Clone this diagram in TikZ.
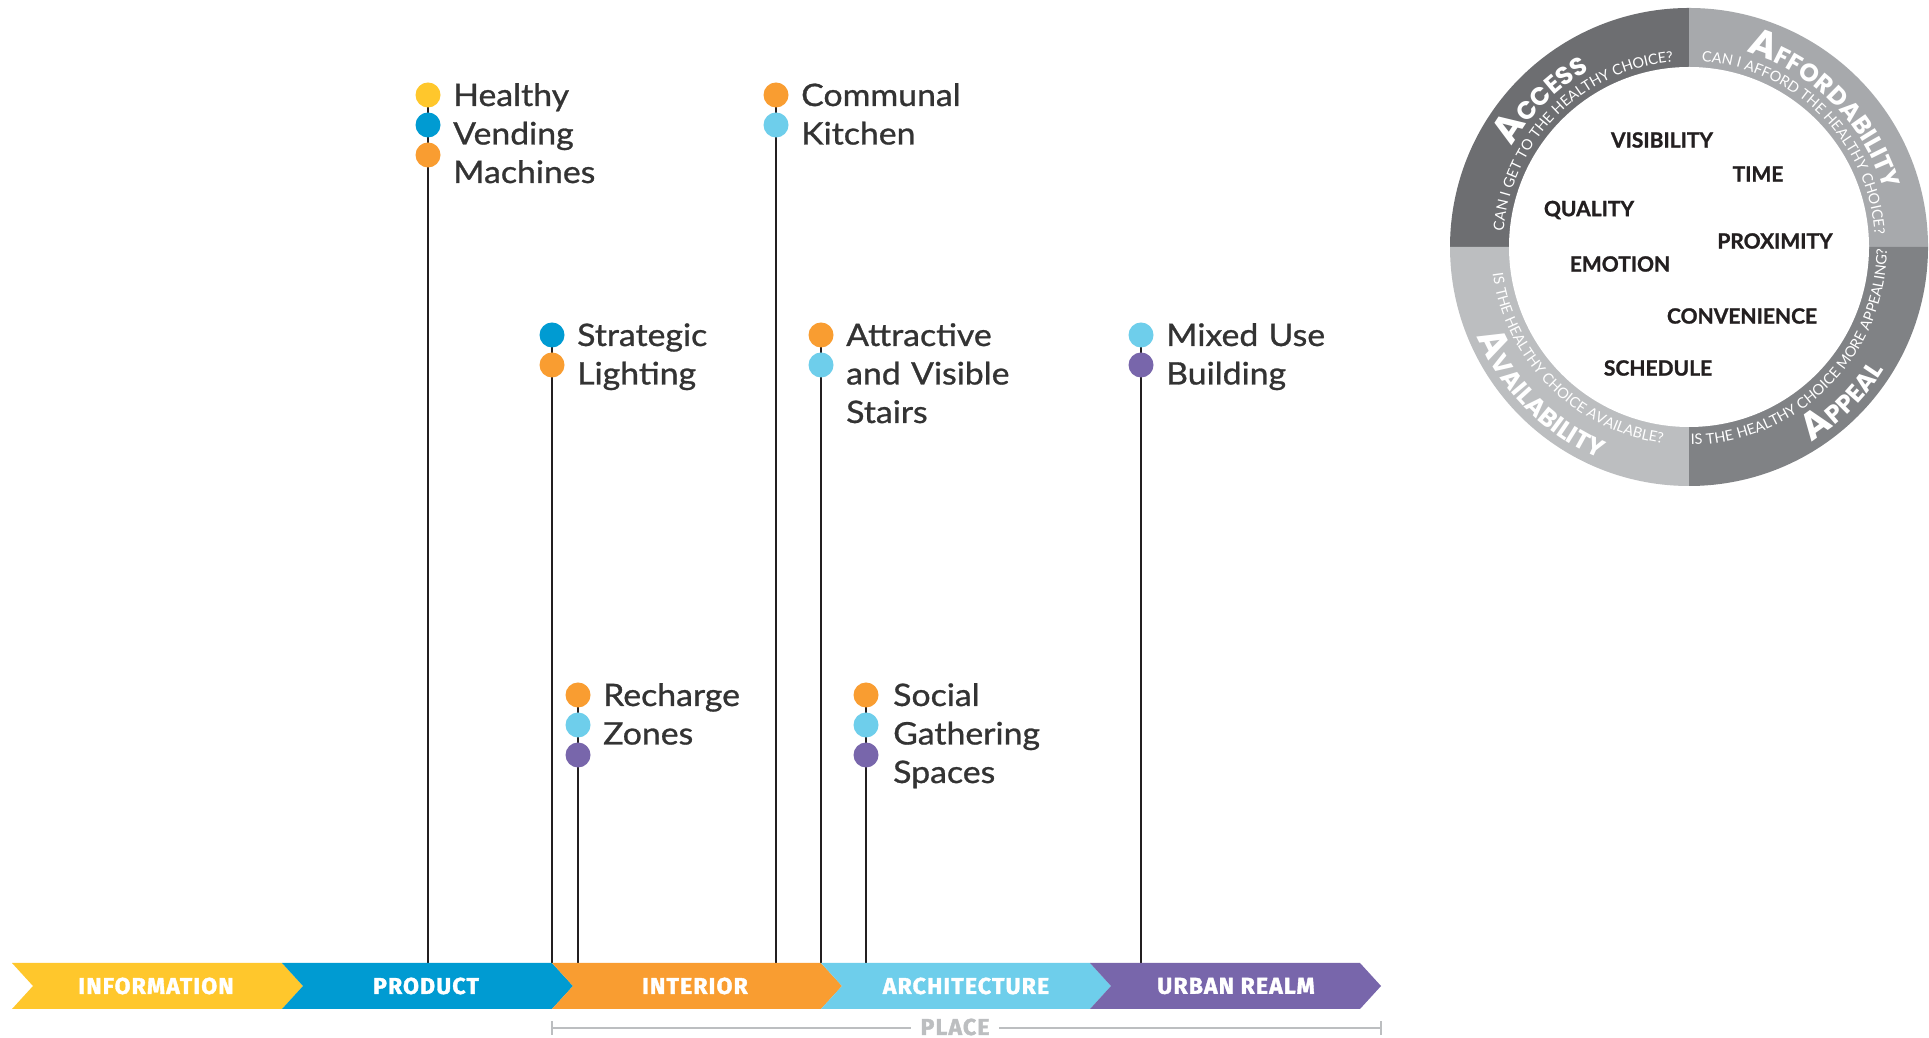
\documentclass[tikz,border=0pt]{standalone}
\usepackage{fontspec}
\setmainfont{Lato}
\newfontfamily\labfont{Lato}[FakeBold=0.9, FakeStretch=1.09]
\newfontfamily\barfont{Fira Sans}[FakeBold=1.6, LetterSpace=5]
\newfontfamily\ringfont{Poppins}
\newfontfamily\qfont{Lato}[LetterSpace=2]
\newfontfamily\wwfont{Lato}[FakeBold=1.2]
\usetikzlibrary{decorations.text}
\definecolor{yel}{HTML}{FFC72C}
\definecolor{blu}{HTML}{009BD2}
\definecolor{ora}{HTML}{F99D31}
\definecolor{lbl}{HTML}{6ECEEB}
\definecolor{pur}{HTML}{7866AB}
\definecolor{stemc}{HTML}{231F20}
\definecolor{txt}{HTML}{333333}
\definecolor{plc}{HTML}{BCBEC0}
\definecolor{acc}{HTML}{6D6E71}
\definecolor{aff}{HTML}{A7A9AC}
\definecolor{ava}{HTML}{BCBEC0}
\definecolor{app}{HTML}{808285}
\newcommand\rbig{\ringfont\bfseries\fontsize{38}{38}\selectfont}
\newcommand\rsmall{\ringfont\bfseries\fontsize{25}{25}\selectfont}
\newcommand\qsize{\qfont\fontsize{14.5}{14.5}\selectfont}
\begin{document}
\begin{tikzpicture}[x=1pt,y=1pt,
  stem/.style={line width=2.6pt, draw=stemc},
  bead/.style={circle, inner sep=0pt, minimum size=25pt},
  lab/.style={anchor=base west, inner sep=0pt, text width=330pt, align=left, text=txt, font=\labfont\fontsize{31}{38.5}\selectfont},
  barlab/.style={inner sep=0pt, text=white, font=\barfont\bfseries\fontsize{23}{23}\selectfont},
  placeline/.style={line width=2pt, draw=plc},
  placelab/.style={fill=white, inner xsep=10pt, inner ysep=0pt, text=plc, font=\barfont\bfseries\fontsize{23}{23}\selectfont},
  ww/.style={inner sep=0pt, text=stemc, font=\wwfont\bfseries\fontsize{21}{21}\selectfont},
  ringtext/.style={decorate, decoration={text along path, text align=center, text color=white, text={#1}}}
]
\useasboundingbox (0,0) rectangle (1929,1038);
\fill[white] (0,0) rectangle (1929,1038);

% ---------- stems ----------
\foreach \n/\x/\y in {hv/428/943, ck/776/943, sl/552/703, as/821/703, mu/1141/703, rz/578/343, sg/866/343}{
  \coordinate (\n Top) at (\x,\y);
  \coordinate (\n Bot) at (\x,75);
  \draw[stem] (\n Top) -- (\n Bot);
}

% ---------- beads ----------
\node[bead, fill=yel] (hv1) at (428,943) {};
\node[bead, fill=blu] (hv2) at (428,913) {};
\node[bead, fill=ora] (hv3) at (428,883) {};
\node[bead, fill=ora] (ck1) at (776,943) {};
\node[bead, fill=lbl] (ck2) at (776,913) {};
\node[bead, fill=blu] (sl1) at (552,703) {};
\node[bead, fill=ora] (sl2) at (552,673) {};
\node[bead, fill=ora] (as1) at (821,703) {};
\node[bead, fill=lbl] (as2) at (821,673) {};
\node[bead, fill=lbl] (mu1) at (1141,703) {};
\node[bead, fill=pur] (mu2) at (1141,673) {};
\node[bead, fill=ora] (rz1) at (578,343) {};
\node[bead, fill=lbl] (rz2) at (578,313) {};
\node[bead, fill=pur] (rz3) at (578,283) {};
\node[bead, fill=ora] (sg1) at (866,343) {};
\node[bead, fill=lbl] (sg2) at (866,313) {};
\node[bead, fill=pur] (sg3) at (866,283) {};

% ---------- labels ----------
\node[lab] (thv) at (453,932) {Healthy\\Vending\\Machines};
\node[lab] (tck) at (801,932) {Communal\\Kitchen};
\node[lab] (tsl) at (577,692) {Strategic\\Lighting};
\node[lab] (tas) at (846,692) {Attractive\\and Visible\\Stairs};
\node[lab] (tmu) at (1166,692) {Mixed Use\\Building};
\node[lab] (trz) at (603,332) {Recharge\\Zones};
\node[lab] (tsg) at (893,332) {Social\\Gathering\\Spaces};

% ---------- bar ----------
\fill[yel] (12,75) -- (282,75) -- (303,52) -- (282,29) -- (12,29) -- (33,52) -- cycle;
\fill[blu] (282,75) -- (552,75) -- (573,52) -- (552,29) -- (282,29) -- (303,52) -- cycle;
\fill[ora] (552,75) -- (821,75) -- (842,52) -- (821,29) -- (552,29) -- (573,52) -- cycle;
\fill[lbl] (821,75) -- (1090,75) -- (1111,52) -- (1090,29) -- (821,29) -- (842,52) -- cycle;
\fill[pur] (1090,75) -- (1360,75) -- (1381,52) -- (1360,29) -- (1090,29) -- (1111,52) -- cycle;
\node[barlab] (binf) at (156,52) {INFORMATION};
\node[barlab] (bpro) at (426,52) {PRODUCT};
\node[barlab] (bint) at (695,52) {INTERIOR};
\node[barlab] (barc) at (966,52) {ARCHITECTURE};
\node[barlab] (burb) at (1236,52) {URBAN REALM};

% ---------- place ----------
\coordinate (pl) at (552,10);
\coordinate (pr) at (1381,10);
\draw[placeline] (pl) -- (pr);
\draw[placeline] (552,3) -- (552,17);
\draw[placeline] (1381,3) -- (1381,17);
\node[placelab] (place) at (955,11) {PLACE};

% ---------- wheel ----------
\coordinate (wc) at (1689,791);
\fill[acc] (wc) -- ++(90:239) arc[start angle=90,end angle=180,radius=239] -- cycle;
\fill[aff] (wc) -- ++(0:239) arc[start angle=0,end angle=90,radius=239] -- cycle;
\fill[ava] (wc) -- ++(180:239) arc[start angle=180,end angle=270,radius=239] -- cycle;
\fill[app] (wc) -- ++(270:239) arc[start angle=270,end angle=360,radius=239] -- cycle;
\fill[white] (wc) circle[radius=180];

\path[ringtext={|\rbig|A|\rsmall|CCESS}] (wc) ++(180:203) arc[start angle=180,end angle=90,radius=203];
\path[ringtext={|\qsize|CAN I GET TO THE HEALTHY CHOICE?}] (wc) ++(180:186) arc[start angle=180,end angle=90,radius=186];
\path[ringtext={|\rbig|A|\rsmall|FFORDABILITY}] (wc) ++(90:203) arc[start angle=90,end angle=0,radius=203];
\path[ringtext={|\qsize|CAN I AFFORD THE HEALTHY CHOICE?}] (wc) ++(90:186) arc[start angle=90,end angle=0,radius=186];
\path[ringtext={|\rbig|A|\rsmall|VAILABILITY}] (wc) ++(180:230) arc[start angle=180,end angle=270,radius=230];
\path[ringtext={|\qsize|IS THE HEALTHY CHOICE AVAILABLE?}] (wc) ++(180:198) arc[start angle=180,end angle=270,radius=198];
\path[ringtext={|\rbig|A|\rsmall|PPEAL}] (wc) ++(270:230) arc[start angle=270,end angle=360,radius=230];
\path[ringtext={|\qsize|IS THE HEALTHY CHOICE MORE APPEALING?}] (wc) ++(265:198) arc[start angle=265,end angle=365,radius=198];

\node[ww] (wvis) at (1662,898) {VISIBILITY};
\node[ww] (wtim) at (1758,864) {TIME};
\node[ww] (wqua) at (1589,828) {QUALITY};
\node[ww] (wpro) at (1775,797) {PROXIMITY};
\node[ww] (wemo) at (1620,774) {EMOTION};
\node[ww] (wcon) at (1742,722) {CONVENIENCE};
\node[ww] (wsch) at (1658,670) {SCHEDULE};
\end{tikzpicture}
\end{document}
